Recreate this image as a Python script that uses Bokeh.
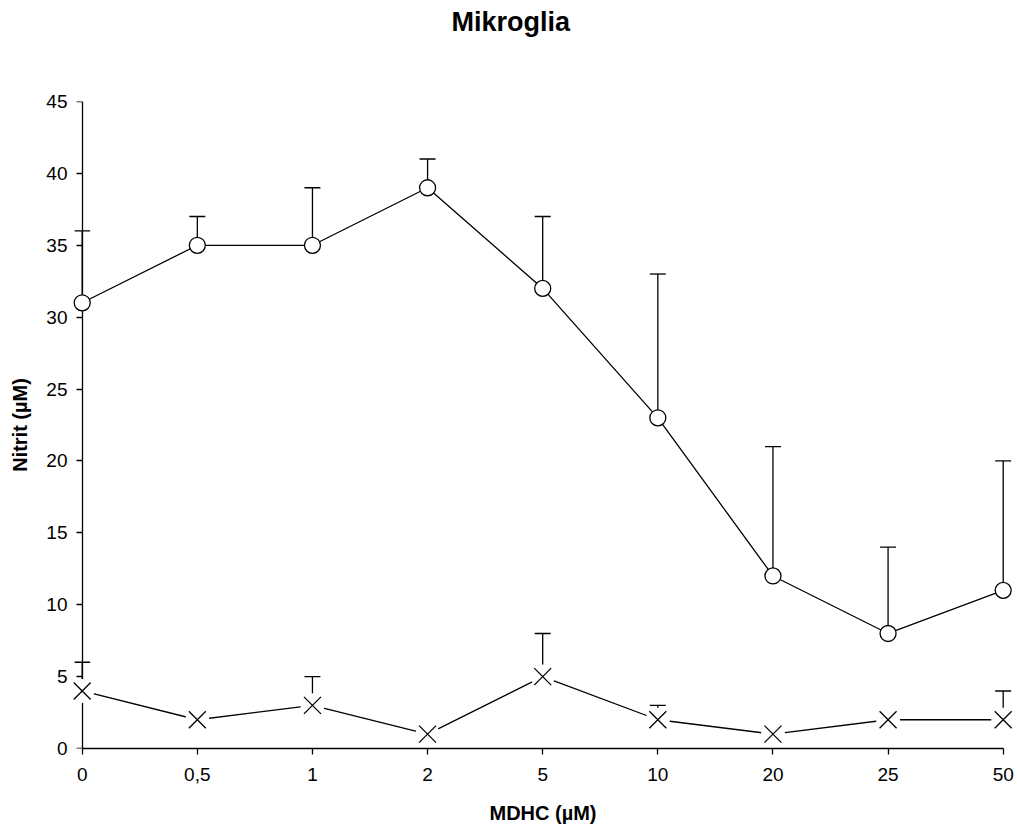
from bokeh.plotting import figure
from bokeh.models import (ColumnDataSource, FixedTicker, Range1d, Whisker, TeeHead,
                          LinearAxis, Title)
from bokeh.embed import file_html
from bokeh.resources import INLINE

# ---- data ----
x_labels = ["0", "0,5", "1", "2", "5", "10", "20", "25", "50"]
nitrit_mean = [31, 35, 35, 39, 32, 23, 12, 8, 11]
nitrit_upper = [36, 37, 39, 41, 37, 33, 21, 14, 20]
control_mean = [4, 2, 3, 1, 5, 2, 1, 2, 2]
control_upper = [6, None, 5, None, 8, 3, None, None, 4]
y_ticks = [0, 5, 10, 15, 20, 25, 30, 35, 40, 45]

title_text = "Mikroglia"
x_title = "MDHC (µM)"
y_title = "Nitrit (µM)"

FONT = "Liberation Sans"
LW = 1.3

xs = list(range(len(x_labels)))

p = figure(width=1017, height=829, output_backend="svg", toolbar_location=None,
           title_location=None,
           x_range=Range1d(-0.0669, 8.0721), y_range=Range1d(0, 45),
           min_border_left=74, min_border_right=6, min_border_top=101, min_border_bottom=81)
p.background_fill_color = "white"
p.border_fill_color = "white"
p.outline_line_color = None
p.grid.visible = False

# title (blank spacer first = nearest the frame, then the visible title above it)
spacer = Title(text=" ", text_font=FONT, text_font_size="10px", standoff=49, text_color="white")
p.add_layout(spacer, "above")
main_title = Title(text=title_text, text_font=FONT, text_font_size="27px",
                   text_font_style="bold", text_color="black", align="left",
                   offset=377, standoff=6)
p.add_layout(main_title, "above")

# axes styling
def style(ax):
    ax.axis_line_color = "black"
    ax.axis_line_width = LW
    ax.major_tick_line_color = "black"
    ax.major_tick_line_width = LW
    ax.major_tick_out = 6
    ax.major_tick_in = 0
    ax.minor_tick_line_color = None
    ax.major_label_text_font = FONT
    ax.major_label_text_font_size = "19px"
    ax.major_label_text_color = "black"
    ax.axis_label_text_font = FONT
    ax.axis_label_text_font_size = "20px"
    ax.axis_label_text_font_style = "bold"
    ax.axis_label_text_color = "black"

xax = p.xaxis[0]
style(xax)
xax.ticker = FixedTicker(ticks=xs)
xax.major_label_overrides = {i: lab for i, lab in zip(xs, x_labels)}
xax.bounds = (0, len(xs) - 1)
xax.axis_label = x_title
xax.major_label_standoff = 13
xax.axis_label_standoff = 18

# labelled y axis at the frame edge (labels + title only)
yax = p.yaxis[0]
style(yax)
yax.ticker = FixedTicker(ticks=y_ticks)
yax.axis_line_color = None
yax.major_tick_line_color = None
yax.major_tick_out = 0
yax.major_label_standoff = 7
yax.axis_label = y_title
yax.axis_label_standoff = 12

# y axis line and ticks at x = 0 (no labels of its own)
yline = LinearAxis(ticker=FixedTicker(ticks=y_ticks), fixed_location=0, bounds=(0, 45))
style(yline)
yline.major_label_text_font_size = "1px"
yline.major_label_text_color = None
yline.major_label_standoff = 0
p.add_layout(yline, "left")

# error bars (upper only)
src_n_err = ColumnDataSource(dict(x=xs, lower=nitrit_mean, upper=nitrit_upper))
wn = Whisker(source=src_n_err, base="x", lower="lower", upper="upper", dimension="height",
             line_color="black", line_width=LW,
             upper_head=TeeHead(size=16, line_color="black", line_width=LW), lower_head=None)
p.add_layout(wn)

ce = [(x, m, u) for x, m, u in zip(xs, control_mean, control_upper) if u is not None]
src_c_err = ColumnDataSource(dict(x=[a for a, _, _ in ce], lower=[b for _, b, _ in ce],
                                  upper=[c for _, _, c in ce]))
wc = Whisker(source=src_c_err, base="x", lower="lower", upper="upper", dimension="height",
             line_color="black", line_width=LW,
             upper_head=TeeHead(size=16, line_color="black", line_width=LW), lower_head=None)
p.add_layout(wc)

# lines
src_n = ColumnDataSource(dict(x=xs, y=nitrit_mean))
src_c = ColumnDataSource(dict(x=xs, y=control_mean))
p.line("x", "y", source=src_n, line_color="black", line_width=LW)
p.line("x", "y", source=src_c, line_color="black", line_width=LW)

# markers (drawn above the axis line, as in the reference)
r1 = p.scatter("x", "y", source=src_n, marker="circle", size=16, fill_color="white",
               line_color="black", line_width=LW)
r2 = p.scatter("x", "y", source=src_c, marker="circle", size=24, fill_color="white",
               line_color=None)
r3 = p.scatter("x", "y", source=src_c, marker="x", size=24, line_color="black", line_width=LW)
for r in (r1, r2, r3):
    r.level = "overlay"

open("out.html", "w").write(file_html(p, INLINE))
